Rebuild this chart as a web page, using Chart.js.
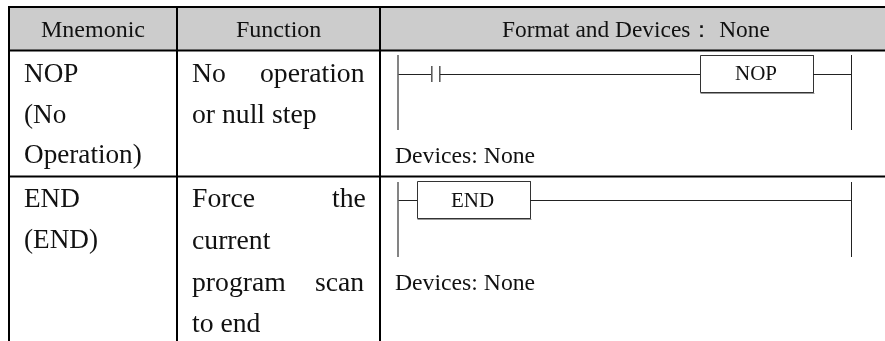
<!DOCTYPE html>
<html lang="en">
<head>
<meta charset="UTF-8" />
<title>Mnemonic table: NOP and END</title>
<script src="https://cdn.jsdelivr.net/npm/chart.js"></script>
<style>
  html, body { margin:0; padding:0; background:#fff; }
  canvas { display:block; }
</style>
</head>
<body>
<canvas id="tableChart" width="885" height="341"></canvas>
<script>
  // everything below is in picture units, the axes run 0-885 and 0-341
  const headerLabels = ['Mnemonic', 'Function', 'Format and Devices\uFF1A None'];
  const headerX = [41, 236, 502];
  const columnEdges = [9, 177, 380];
  const rowEdges = [7, 50.5, 176.5];
  const tableRight = 885;
  const tableBottom = 341;

  const leftRailX = 398;
  const rightRailX = 851.5;
  const rails = [[55, 130], [182, 257]];

  const rungSegments = [
    [[398, 74.5], [431, 74.5]],
    [[440, 74.5], [700, 74.5]],
    [[813, 74.5], [851, 74.5]],
    [[398, 200.5], [417, 200.5]],
    [[530, 200.5], [851, 200.5]]
  ];
  const contactBars = [[431.8, 66, 82], [439.8, 66, 82]];
  const boxes = [[700.5, 55.5, 813.5, 92.5], [417.5, 181.5, 530.5, 218.5]];

  // [text, x, baseline]
  const mnemonicWords = [
    ['NOP', 24, 82], ['(No', 24, 123], ['Operation)', 24, 163],
    ['END', 24, 207], ['(END)', 24, 248]
  ];
  const functionWords = [
    ['No', 192, 82], ['operation', 260, 82], ['or null step', 192, 123],
    ['Force', 192, 207], ['the', 332, 207], ['current', 192, 249],
    ['program', 192, 291], ['scan', 315, 291], ['to end', 192, 332]
  ];
  const deviceNotes = [['Devices: None', 395, 163], ['Devices: None', 395, 290]];
  const boxLabels = [['NOP', 735, 80], ['END', 451, 207]];
  const headerBaseline = 37;

  function seg(a, b, color, width) {
    return {
      data: [{ x: a[0], y: a[1] }, { x: b[0], y: b[1] }],
      showLine: true, pointRadius: 0, borderColor: color, borderWidth: width,
      tension: 0, fill: false
    };
  }

  const datasets = [];

  // table rules
  rowEdges.forEach(y => datasets.push(seg([columnEdges[0] - 1, y], [tableRight, y], '#000', 2)));
  columnEdges.forEach(x => datasets.push(seg([x, rowEdges[0]], [x, tableBottom], '#000', 2)));

  // ladder rails, rungs, contact and boxes
  rails.forEach(r => {
    datasets.push(seg([leftRailX, r[0]], [leftRailX, r[1]], '#666', 1.6));
    datasets.push(seg([rightRailX, r[0]], [rightRailX, r[1]], '#222', 1));
  });
  rungSegments.forEach(s => datasets.push(seg(s[0], s[1], '#222', 1)));
  contactBars.forEach(c => datasets.push(seg([c[0], c[1]], [c[0], c[2]], '#555', 1.5)));
  boxes.forEach(b => {
    datasets.push({
      data: [
        { x: b[0], y: b[1] }, { x: b[2], y: b[1] }, { x: b[2], y: b[3] },
        { x: b[0], y: b[3] }, { x: b[0], y: b[1] }
      ],
      showLine: true, pointRadius: 0, borderColor: '#333', borderWidth: 1, tension: 0, fill: false
    });
    datasets.push(seg([b[0], b[3] + 1], [b[2] + 1, b[3] + 1], '#999', 1));
  });

  // header band goes last so it sits under the rules
  datasets.push({
    data: [{ x: columnEdges[0], y: rowEdges[0] }, { x: tableRight, y: rowEdges[0] }],
    showLine: true, pointRadius: 0, borderWidth: 0,
    fill: { value: rowEdges[1] }, backgroundColor: '#cccccc'
  });

  const tableText = {
    id: 'tableText',
    afterDatasetsDraw(chart) {
      const { ctx, scales } = chart;
      const put = (list, font) => {
        ctx.font = font;
        list.forEach(t => ctx.fillText(t[0], scales.x.getPixelForValue(t[1]), scales.y.getPixelForValue(t[2])));
      };
      ctx.save();
      ctx.fillStyle = '#111';
      ctx.textAlign = 'left';
      ctx.textBaseline = 'alphabetic';
      put(headerLabels.slice(0, 2).map((t, i) => [t, headerX[i], headerBaseline]), '24px "Liberation Serif"');
      put([[headerLabels[2], headerX[2], headerBaseline]], '23.4px "Liberation Serif"');
      put(mnemonicWords, '27.2px "Liberation Serif"');
      put(functionWords, '27.7px "Liberation Serif"');
      put(deviceNotes, '23.7px "Liberation Serif"');
      put(boxLabels, '21px "Liberation Serif"');
      ctx.restore();
    }
  };

  new Chart(document.getElementById('tableChart'), {
    type: 'scatter',
    data: { datasets },
    plugins: [tableText],
    options: {
      responsive: false,
      animation: false,
      layout: { padding: 0 },
      plugins: { legend: { display: false }, tooltip: { enabled: false } },
      scales: {
        x: { type: 'linear', min: 0, max: 885, display: false },
        y: { type: 'linear', min: 0, max: 341, reverse: true, display: false }
      }
    }
  });
</script>
</body>
</html>
